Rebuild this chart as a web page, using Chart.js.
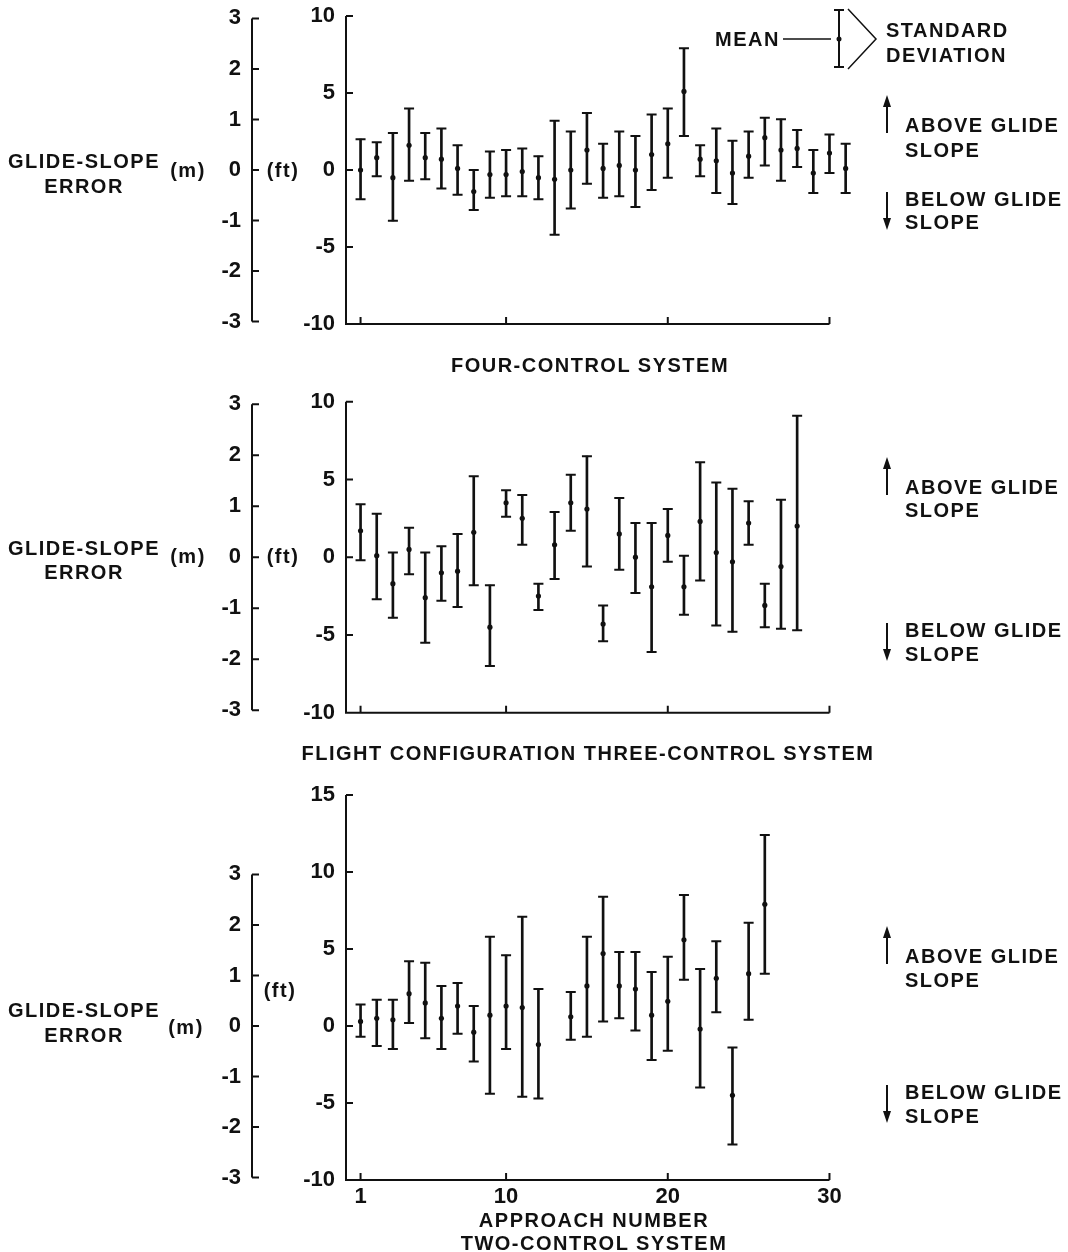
<!DOCTYPE html>
<html>
<head>
<meta charset="utf-8">
<title>Glide-slope error by approach number</title>
<script src="https://cdn.jsdelivr.net/npm/chart.js@4.4.1/dist/chart.umd.min.js"></script>
<style>
  body { margin: 0; background: #fff; }
  #page { position: relative; width: 1068px; height: 1252px; overflow: hidden;
          font-family: "Liberation Sans", Arial, sans-serif; font-weight: bold; color: #111; }
  canvas { position: absolute; left: 0; }
  .t { position: absolute; font-size: 20px; letter-spacing: 1.5px; line-height: 1;
       white-space: nowrap; transform: translate(-50%, -50%); }
  .l { transform: translate(0, -50%); }
  svg { position: absolute; left: 0; top: 0; }
</style>
</head>
<body>
<div id="page">
  <canvas id="four" width="1068" height="345" style="top:0px"></canvas>
  <canvas id="three" width="1068" height="345" style="top:385px"></canvas>
  <canvas id="two" width="1068" height="482" style="top:770px"></canvas>

  <svg width="1068" height="1252">
    <g stroke="#111" fill="none">
      <!-- mean / standard deviation key -->
      <line x1="783" y1="39" x2="831" y2="39" stroke-width="1.5"/>
      <line x1="839" y1="10" x2="839" y2="67" stroke-width="2"/>
      <line x1="834" y1="10" x2="844" y2="10" stroke-width="2"/>
      <line x1="834" y1="67" x2="844" y2="67" stroke-width="2"/>
      <polyline points="848,9 876,39 848,69" stroke-width="1.5"/>
      <!-- above / below arrows -->
      <line x1="887" y1="133" x2="887" y2="104" stroke-width="2"/>
      <line x1="887" y1="192" x2="887" y2="221" stroke-width="2"/>
      <line x1="887" y1="495" x2="887" y2="466" stroke-width="2"/>
      <line x1="887" y1="623" x2="887" y2="652" stroke-width="2"/>
      <line x1="887" y1="964" x2="887" y2="935" stroke-width="2"/>
      <line x1="887" y1="1085" x2="887" y2="1114" stroke-width="2"/>
    </g>
    <g fill="#111">
      <circle cx="839" cy="39" r="2.5"/>
      <polygon points="883,107 887,95 891,107"/>
      <polygon points="883,218 887,230 891,218"/>
      <polygon points="883,469 887,457 891,469"/>
      <polygon points="883,649 887,661 891,649"/>
      <polygon points="883,938 887,926 891,938"/>
      <polygon points="883,1111 887,1123 891,1111"/>
    </g>
  </svg>

  <!-- four-control panel -->
  <div class="t" style="left:84px;top:161px">GLIDE-SLOPE</div>
  <div class="t" style="left:84px;top:186px">ERROR</div>
  <div class="t" style="left:188px;top:170px">(m)</div>
  <div class="t" style="left:283px;top:170px">(ft)</div>
  <div class="t" style="left:590px;top:365px">FOUR-CONTROL SYSTEM</div>
  <div class="t l" style="left:715px;top:39px">MEAN</div>
  <div class="t l" style="left:886px;top:30px">STANDARD</div>
  <div class="t l" style="left:886px;top:55px">DEVIATION</div>
  <div class="t l" style="left:905px;top:125px">ABOVE GLIDE</div>
  <div class="t l" style="left:905px;top:150px">SLOPE</div>
  <div class="t l" style="left:905px;top:199px">BELOW GLIDE</div>
  <div class="t l" style="left:905px;top:222px">SLOPE</div>

  <!-- three-control panel -->
  <div class="t" style="left:84px;top:548px">GLIDE-SLOPE</div>
  <div class="t" style="left:84px;top:572px">ERROR</div>
  <div class="t" style="left:188px;top:556px">(m)</div>
  <div class="t" style="left:283px;top:556px">(ft)</div>
  <div class="t" style="left:588px;top:753px">FLIGHT CONFIGURATION THREE-CONTROL SYSTEM</div>
  <div class="t l" style="left:905px;top:487px">ABOVE GLIDE</div>
  <div class="t l" style="left:905px;top:510px">SLOPE</div>
  <div class="t l" style="left:905px;top:630px">BELOW GLIDE</div>
  <div class="t l" style="left:905px;top:654px">SLOPE</div>

  <!-- two-control panel -->
  <div class="t" style="left:84px;top:1010px">GLIDE-SLOPE</div>
  <div class="t" style="left:84px;top:1035px">ERROR</div>
  <div class="t" style="left:186px;top:1027px">(m)</div>
  <div class="t" style="left:280px;top:990px">(ft)</div>
  <div class="t" style="left:594px;top:1220px">APPROACH NUMBER</div>
  <div class="t" style="left:594px;top:1243px">TWO-CONTROL SYSTEM</div>
  <div class="t l" style="left:905px;top:956px">ABOVE GLIDE</div>
  <div class="t l" style="left:905px;top:980px">SLOPE</div>
  <div class="t l" style="left:905px;top:1092px">BELOW GLIDE</div>
  <div class="t l" style="left:905px;top:1116px">SLOPE</div>
</div>

<script>
// approach numbers, mean error and the top / bottom of the +-1 SD bar, all in feet

// four-control system
var approach4 = [1, 2, 3, 4, 5, 6, 7, 8, 9, 10, 11, 12, 13, 14, 15, 16, 17, 18, 19, 20, 21, 22, 23, 24, 25, 26, 27, 28, 29, 30, 31];
var mean4 = [0.0, 0.8, -0.5, 1.6, 0.8, 0.7, 0.1, -1.4, -0.3, -0.3, -0.1, -0.5, -0.6, 0.0, 1.3, 0.1, 0.3, 0.0, 1.0, 1.7, 5.1, 0.7, 0.6, -0.2, 0.9, 2.1, 1.3, 1.4, -0.2, 1.1, 0.1];
var hi4 = [2.0, 1.8, 2.4, 4.0, 2.4, 2.7, 1.6, 0.0, 1.2, 1.3, 1.4, 0.9, 3.2, 2.5, 3.7, 1.7, 2.5, 2.2, 3.6, 4.0, 7.9, 1.6, 2.7, 1.9, 2.5, 3.4, 3.3, 2.6, 1.3, 2.3, 1.7];
var lo4 = [-1.9, -0.4, -3.3, -0.7, -0.6, -1.2, -1.6, -2.6, -1.8, -1.7, -1.7, -1.9, -4.2, -2.5, -0.9, -1.8, -1.7, -2.4, -1.3, -0.5, 2.2, -0.4, -1.5, -2.2, -0.5, 0.3, -0.7, 0.2, -1.5, -0.2, -1.5];

// three-control system
var approach3 = [1, 2, 3, 4, 5, 6, 7, 8, 9, 10, 11, 12, 13, 14, 15, 16, 17, 18, 19, 20, 21, 22, 23, 24, 25, 26, 27, 28];
var mean3 = [1.7, 0.1, -1.7, 0.5, -2.6, -1.0, -0.9, 1.6, -4.5, 3.5, 2.5, -2.5, 0.8, 3.5, 3.1, -4.3, 1.5, 0.0, -1.9, 1.4, -1.9, 2.3, 0.3, -0.3, 2.2, -3.1, -0.6, 2.0];
var hi3 = [3.4, 2.8, 0.3, 1.9, 0.3, 0.7, 1.5, 5.2, -1.8, 4.3, 4.0, -1.7, 2.9, 5.3, 6.5, -3.1, 3.8, 2.2, 2.2, 3.1, 0.1, 6.1, 4.8, 4.4, 3.6, -1.7, 3.7, 9.1];
var lo3 = [-0.2, -2.7, -3.9, -1.1, -5.5, -2.8, -3.2, -1.8, -7.0, 2.6, 0.8, -3.4, -1.4, 1.7, -0.6, -5.4, -0.8, -2.3, -6.1, -0.3, -3.7, -1.5, -4.4, -4.8, 0.8, -4.5, -4.6, -4.7];

// two-control system (no approach 13)
var approach2 = [1, 2, 3, 4, 5, 6, 7, 8, 9, 10, 11, 12, 14, 15, 16, 17, 18, 19, 20, 21, 22, 23, 24, 25, 26];
var mean2 = [0.3, 0.5, 0.4, 2.1, 1.5, 0.5, 1.3, -0.4, 0.7, 1.3, 1.2, -1.2, 0.6, 2.6, 4.7, 2.6, 2.4, 0.7, 1.6, 5.6, -0.2, 3.1, -4.5, 3.4, 7.9];
var hi2 = [1.4, 1.7, 1.7, 4.2, 4.1, 2.6, 2.8, 1.3, 5.8, 4.6, 7.1, 2.4, 2.2, 5.8, 8.4, 4.8, 4.8, 3.5, 4.5, 8.5, 3.7, 5.5, -1.4, 6.7, 12.4];
var lo2 = [-0.7, -1.3, -1.5, 0.2, -0.8, -1.5, -0.5, -2.3, -4.4, -1.5, -4.6, -4.7, -0.9, -0.7, 0.3, 0.5, -0.3, -2.2, -1.6, 3.0, -4.0, 0.9, -7.7, 0.4, 3.4];

// tick labels
var xTicks = [1, 10, 20, 30];
var ftTicks = [-10, -5, 0, 5, 10];
var ftTicksTall = [-10, -5, 0, 5, 10, 15];
var mTicks = [-3, -2, -1, 0, 1, 2, 3];

var FT_TO_M = 0.3048;
var INK = "#111";

Chart.defaults.font.family = '"Liberation Sans", Arial, sans-serif';
Chart.defaults.font.weight = "bold";
Chart.defaults.color = INK;

// axis lines with inward ticks, drawn from the chart's own scales
var axisLines = {
  id: "axisLines",
  afterDraw: function (chart) {
    var ctx = chart.ctx;
    var ft = chart.scales.y, m = chart.scales.ym, x = chart.scales.x;
    var left = chart.chartArea.left, bottom = chart.chartArea.bottom;
    ctx.save();
    ctx.strokeStyle = INK;
    ctx.lineWidth = 2;
    ctx.beginPath();
    ctx.moveTo(left, ft.getPixelForValue(ft.max));
    ctx.lineTo(left, bottom);
    ctx.lineTo(x.getPixelForValue(30), bottom);
    ft.ticks.forEach(function (t) {
      var py = ft.getPixelForValue(t.value);
      ctx.moveTo(left, py);
      ctx.lineTo(left + 7, py);
    });
    xTicks.forEach(function (v) {
      var px = x.getPixelForValue(v);
      ctx.moveTo(px, bottom);
      ctx.lineTo(px, bottom - 7);
    });
    var mx = m.right;
    ctx.moveTo(mx, m.getPixelForValue(3));
    ctx.lineTo(mx, m.getPixelForValue(-3));
    m.ticks.forEach(function (t) {
      var py = m.getPixelForValue(t.value);
      ctx.moveTo(mx, py);
      ctx.lineTo(mx + 7, py);
    });
    ctx.stroke();
    ctx.restore();
  }
};

function makePanel(id, approach, mean, hi, lo, ftVals, pad, showX) {
  var bars = approach.map(function (n, i) { return { x: n, y: [lo[i], hi[i]] }; });
  var tops = approach.map(function (n, i) { return { x: n, y: hi[i] }; });
  var bots = approach.map(function (n, i) { return { x: n, y: lo[i] }; });
  var pts = approach.map(function (n, i) { return { x: n, y: mean[i] }; });
  var ftMin = ftVals[0], ftMax = ftVals[ftVals.length - 1];
  // invisible tick marks only set the gap between labels and axis line
  var hiddenGrid = { display: false, drawTicks: true, tickLength: 11, offset: false };

  return new Chart(document.getElementById(id), {
    type: "scatter",
    data: {
      datasets: [
        { type: "bar", data: bars, backgroundColor: INK, barThickness: 2, borderWidth: 0 },
        { data: tops, pointStyle: "line", pointRadius: 5, borderColor: INK, borderWidth: 2 },
        { data: bots, pointStyle: "line", pointRadius: 5, borderColor: INK, borderWidth: 2 },
        { data: pts, pointStyle: "circle", pointRadius: 2.6, backgroundColor: INK, borderWidth: 0 }
      ]
    },
    options: {
      responsive: false,
      animation: false,
      devicePixelRatio: 1,
      events: [],
      layout: { padding: pad },
      plugins: { legend: { display: false }, tooltip: { enabled: false } },
      scales: {
        x: {
          type: "linear",
          offset: false,
          min: 0.1,
          max: 32,
          display: showX,
          grid: { display: false, drawTicks: true, tickLength: 4, offset: false },
          border: { display: false },
          ticks: { font: { size: 22 }, padding: 0, autoSkip: false, maxRotation: 0 },
          afterBuildTicks: function (s) { s.ticks = xTicks.map(function (v) { return { value: v }; }); },
          afterFit: function (s) { if (showX) s.height = 40; }
        },
        y: {
          position: "left",
          weight: 0,
          min: ftMin,
          max: ftMax,
          grid: hiddenGrid,
          border: { display: false },
          ticks: { font: { size: 22 }, padding: 0 },
          afterBuildTicks: function (s) { s.ticks = ftVals.map(function (v) { return { value: v }; }); },
          afterFit: function (s) { s.width = 94; }
        },
        ym: {
          position: "left",
          weight: 1,
          min: ftMin * FT_TO_M,
          max: ftMax * FT_TO_M,
          grid: hiddenGrid,
          border: { display: false },
          ticks: { font: { size: 22 }, padding: 0 },
          afterBuildTicks: function (s) { s.ticks = mTicks.map(function (v) { return { value: v }; }); },
          afterFit: function (s) { s.width = 252; }
        }
      }
    },
    plugins: [axisLines]
  });
}

// x spans 0.1..32 at about 16.2 px per approach, starting at the ft axis (x = 346)
var padRight = 1068 - (346 + (32 - 0.1) * 16.17);

makePanel("four", approach4, mean4, hi4, lo4, ftTicks,
  { top: 16, bottom: 21, left: 0, right: padRight }, false);
makePanel("three", approach3, mean3, hi3, lo3, ftTicks,
  { top: 16.7, bottom: 17.3, left: 0, right: padRight }, false);
makePanel("two", approach2, mean2, hi2, lo2, ftTicksTall,
  { top: 25, bottom: 32, left: 0, right: padRight }, true);
</script>
</body>
</html>
